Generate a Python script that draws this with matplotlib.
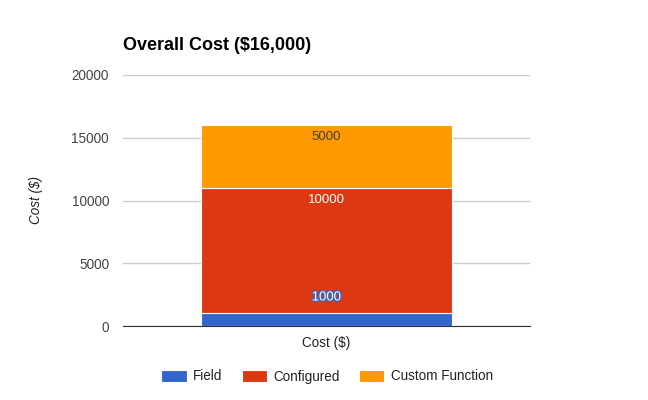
import matplotlib
matplotlib.use("Agg")
import matplotlib.pyplot as plt
import matplotlib.patheffects as pe

categories = ["Cost ($)"]
series_names = ["Field", "Configured", "Custom Function"]
field = [1000]
configured = [10000]
custom_function = [5000]
colors = ["#3366cc", "#dc3912", "#ff9900"]
yticks = [0, 5000, 10000, 15000, 20000]

plt.rcParams['font.family'] = ['Liberation Sans', 'DejaVu Sans']

fig = plt.figure(figsize=(6.48, 4.0), dpi=100)
ax = fig.add_axes([123/648, 1-326/400, (530-123)/648, (326-75)/400])

x = range(len(categories))
bottoms = [0]*len(categories)
series = [field, configured, custom_function]
bars = []
for name, vals, c in zip(series_names, series, colors):
    b = ax.bar(x, vals, bottom=bottoms, width=0.617, color=c, label=name,
               edgecolor='white', linewidth=0.8, zorder=3)
    bars.append(b)
    bottoms = [bo + v for bo, v in zip(bottoms, vals)]

# labels
bottoms = [0]*len(categories)
for i, (vals, c) in enumerate(zip(series, colors)):
    for xi, v in enumerate(vals):
        top = bottoms[xi] + v
        if i == 0:
            t = ax.annotate(str(v), (xi, top), xytext=(0, 11.5), textcoords='offset points',
                            ha='center', va='center', color='white', fontsize=9.5, zorder=5)
            t.set_path_effects([pe.withStroke(linewidth=1.8, foreground=c)])
        else:
            col = '#404040' if i == 2 else 'white'
            ax.annotate(str(v), (xi, top), xytext=(0, -8.7), textcoords='offset points',
                        ha='center', va='center', color=col, fontsize=9.5, zorder=5)
    bottoms = [bo + v for bo, v in zip(bottoms, vals)]

ax.set_xlim(-0.5, 0.5)
ax.set_ylim(0, 20000)
ax.set_yticks(yticks)
ax.set_yticklabels([str(t) for t in yticks], fontsize=9.75, color='#444444')
ax.set_xticks(list(x))
ax.set_xticklabels(categories, fontsize=9.75, color='#222222')
ax.tick_params(axis='y', length=0, pad=10)
ax.tick_params(axis='x', length=0, pad=7.5)
ax.grid(axis='y', color='#cccccc', linewidth=1, zorder=0)
for s in ['top', 'right', 'left']:
    ax.spines[s].set_visible(False)
ax.spines['bottom'].set_color('#333333')
ax.spines['bottom'].set_zorder(4)

ax.set_ylabel("Cost ($)", fontsize=9.75, style='italic', color='#222222', labelpad=0)
ax.yaxis.set_label_coords(-(123-43)/407, 0.5)

fig.text(123/648, 1-46/400, "Overall Cost ($16,000)", fontsize=13, fontweight='bold',
         ha='left', va='center', color='#000000')

leg = fig.legend(handles=[b for b in bars], labels=series_names, loc='center',
                 bbox_to_anchor=(327/648, 1-376.5/400), ncol=3, frameon=False,
                 fontsize=9.75, handlelength=1.9, handleheight=0.95, columnspacing=1.4,
                 handletextpad=0.45)
for t in leg.get_texts():
    t.set_color('#222222')

fig.savefig("out.png", dpi=100)
